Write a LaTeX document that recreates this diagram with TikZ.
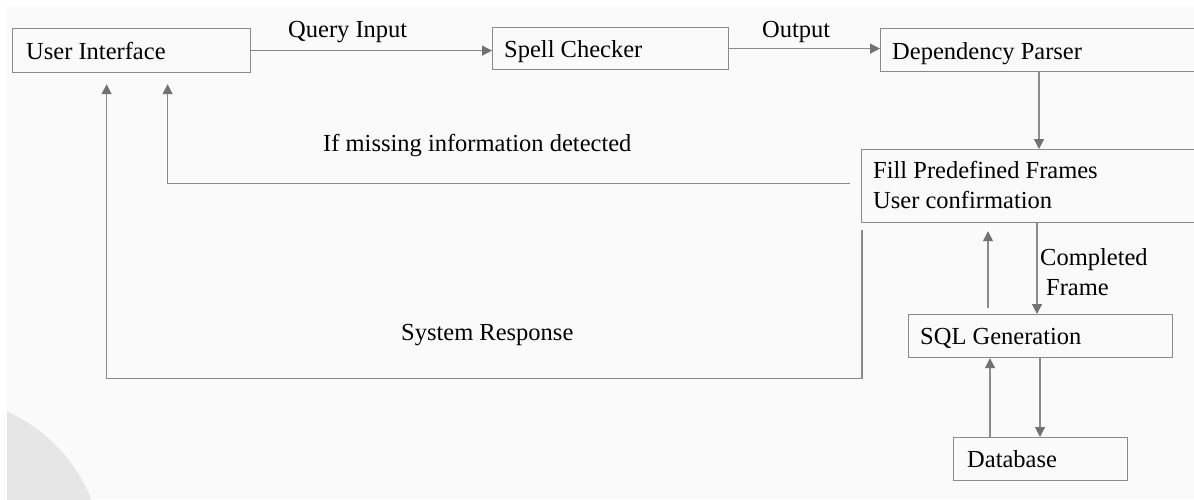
\documentclass[tikz,border=0pt]{standalone}
\usepackage{fontspec}
\setmainfont{Liberation Serif}
\usetikzlibrary{arrows.meta}
\definecolor{slidebg}{HTML}{FAFAFA}
\definecolor{deco}{HTML}{E6E6E6}
\definecolor{linegray}{HTML}{8A8A8A}
\definecolor{tipgray}{HTML}{727272}
\definecolor{txt}{HTML}{000000}
\tikzset{
  box/.style={draw=linegray, line width=1.2pt, rectangle, inner sep=0pt, anchor=north west},
  conn/.style={draw=linegray, line width=1.2pt, -{Triangle[length=10pt,width=10pt,color=tipgray]}},
  lbl/.style={anchor=base west, inner sep=0pt, text=txt, font=\fontsize{24.5}{29}\selectfont}
}
\begin{document}
\begin{tikzpicture}[x=1pt,y=-1pt]
\clip (0,0) rectangle (1194,499);
\fill[white] (0,0) rectangle (1194,499);
\fill[slidebg] (7,6) rectangle (1194,499);
\begin{scope}
  \clip (7,6) rectangle (1194,499);
  \fill[deco] (-60,560) circle[radius=163];
\end{scope}

% boxes
\node[box, minimum width=238pt, minimum height=44pt] (ui) at (12,28) {};
\node[box, minimum width=236pt, minimum height=42pt] (sc) at (492,27) {};
\node[box, minimum width=330pt, minimum height=43pt] (dp) at (880,28) {};
\node[box, minimum width=350pt, minimum height=73pt] (fpf) at (861,149) {};
\node[box, minimum width=264pt, minimum height=43pt] (sql) at (908,314) {};
\node[box, minimum width=174pt, minimum height=43pt] (db) at (953,437) {};

% box texts
\node[lbl] (uit) at (26,59) {User Interface};
\node[lbl] (sct) at (504,57) {Spell Checker};
\node[lbl] (dpt) at (892,59) {Dependency Parser};
\node[lbl] (fpft1) at (873,178) {Fill Predefined Frames};
\node[lbl] (fpft2) at (873,208) {User confirmation};
\node[lbl] (sqlt) at (920,344) {SQL Generation};
\node[lbl] (dbt) at (967,467) {Database};

% edge labels
\node[lbl] (qi) at (288,37) {Query Input};
\node[lbl] (out) at (762,37) {Output};
\node[lbl] (mis) at (323,151) {If missing information detected};
\node[lbl] (sr) at (401,340) {System Response};
\node[lbl] (cf1) at (1040,265) {Completed};
\node[lbl] (cf2) at (1046,295) {Frame};

% connectors
\draw[conn] (ui.east) -- (ui.east -| sc.west);
\draw[conn] (sc.east) -- (sc.east -| dp.west);
\draw[conn] ([xshift=159]dp.south west) -- ([xshift=178]fpf.north west);
\draw[conn] ([xshift=176]fpf.south west) -- ([xshift=129]sql.north west);
\draw[conn] ([shift={(80,-6)}]sql.north west) -- ([shift={(127,8)}]fpf.south west);
\draw[conn] ([xshift=132]sql.south west) -- ([xshift=87]db.north west);
\draw[conn] ([xshift=37]db.north west) -- ([xshift=82]sql.south west);
\draw[conn] ([shift={(-11,-2.5)}]fpf.west) -| ([shift={(36,11)}]ui.south);
\draw[conn] ([shift={(1,7)}]fpf.south west) -- ++(0,148) -| ([shift={(-25,11)}]ui.south);
\end{tikzpicture}
\end{document}
